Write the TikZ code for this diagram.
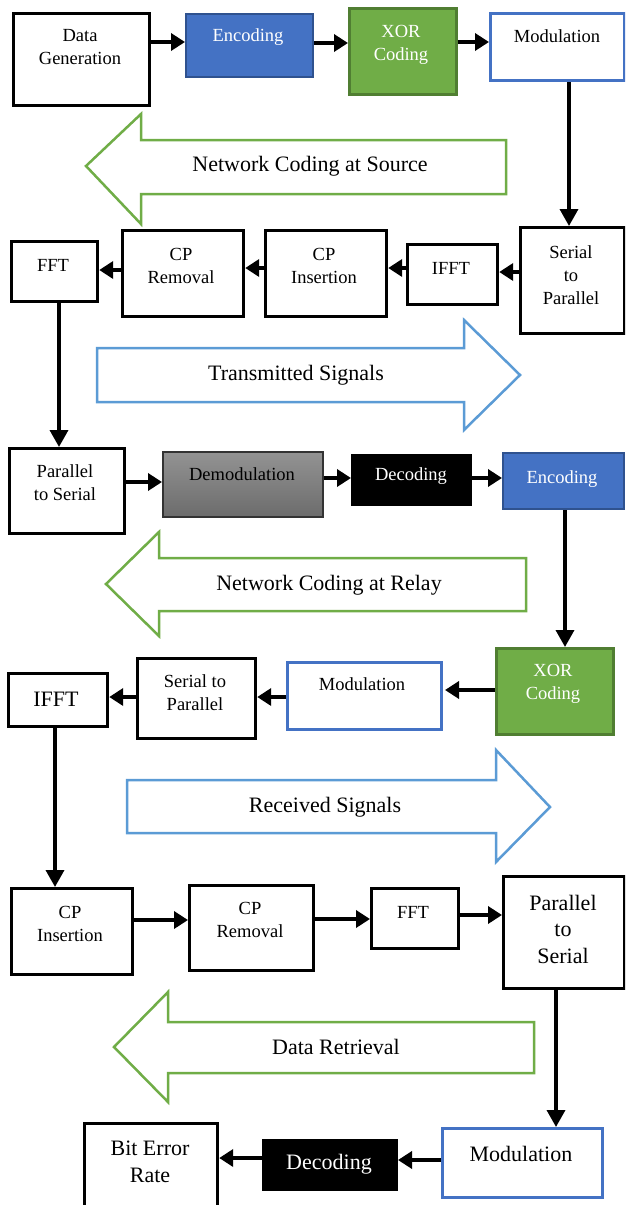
\documentclass[tikz,border=0pt]{standalone}
\usepackage{fontspec}
\setmainfont{Liberation Serif}
\usetikzlibrary{arrows.meta}
\definecolor{encblue}{HTML}{4472C4}
\definecolor{encborder}{HTML}{2F528F}
\definecolor{xorgreen}{HTML}{70AD47}
\definecolor{xorborder}{HTML}{507E32}
\definecolor{sigblue}{HTML}{5B9BD5}
\definecolor{demtop}{HTML}{939393}
\definecolor{dembot}{HTML}{6C6C6C}
\newcommand\blockbox[6]{\node[#2, anchor=north west, minimum width={(#5-#3)*1pt}, minimum height={(#6-#4)*1pt}] (#1) at (#3,#4) {};}
\tikzset{
  plain/.style={rectangle, draw=black, line width=3.2pt, fill=white, inner sep=0pt},
  encbox/.style={rectangle, fill=encblue, draw=encborder, line width=2pt, inner sep=0pt},
  xorbox/.style={rectangle, fill=xorgreen, draw=xorborder, line width=2.5pt, inner sep=0pt},
  modbox/.style={rectangle, fill=white, draw=encblue, line width=3pt, inner sep=0pt},
  decbox/.style={rectangle, fill=black, draw=black, line width=1pt, inner sep=0pt},
  dembox/.style={rectangle, top color=demtop, bottom color=dembot, draw=black!80, line width=1.5pt, inner sep=0pt},
  small/.style={font=\fontsize{18.5}{23}\selectfont, align=center, inner sep=0pt},
  large/.style={font=\fontsize{22}{26.5}\selectfont, align=center, inner sep=0pt},
  lbl/.style={font=\fontsize{22}{26}\selectfont, inner sep=0pt},
  harr/.style={line width=4.5pt, -{Triangle[length=14pt,width=17pt]}},
  varr/.style={line width=3.5pt, -{Triangle[length=17pt,width=18pt]}},
  garrow/.style={draw=xorgreen, line width=2.5pt, line join=miter, fill=white},
  barrow/.style={draw=sigblue, line width=2.5pt, line join=miter, fill=white},
}
\begin{document}
\begin{tikzpicture}[x=1pt, y=-1pt]
\useasboundingbox (0,0) rectangle (625,1205);
\clip (0,0) rectangle (625,1205);
% ---------- block arrows ----------
\draw[garrow] (86,166) -- (141,114) -- (141,140) -- (506,140) -- (506,194) -- (141,194) -- (141,224) -- cycle;
\node[lbl] (lNCS) at (310,166) {Network Coding at Source};
\draw[barrow] (520,375) -- (464,320) -- (464,348) -- (97,348) -- (97,402) -- (464,402) -- (464,430) -- cycle;
\node[lbl] (lTS) at (296,375) {Transmitted Signals};
\draw[garrow] (106,584) -- (159,532) -- (159,558) -- (526,558) -- (526,611) -- (159,611) -- (159,636) -- cycle;
\node[lbl] (lNCR) at (329,585) {Network Coding at Relay};
\draw[barrow] (550,807) -- (496,750) -- (496,780) -- (127,780) -- (127,833) -- (496,833) -- (496,862) -- cycle;
\node[lbl] (lRS) at (325,807) {Received Signals};
\draw[garrow] (114,1047) -- (168,992) -- (168,1022) -- (534,1022) -- (534,1073) -- (168,1073) -- (168,1102) -- cycle;
\node[lbl] (lDR) at (336,1047) {Data Retrieval};
% ---------- row 1 ----------
\blockbox{DG}{plain}{12}{12}{148}{104}
\node[small] (tDG) at (80,47) {Data\\Generation};
\blockbox{EncA}{encbox}{185}{13}{312}{76}
\node[small, text=white] (tEncA) at (248,37) {Encoding};
\blockbox{XorA}{xorbox}{348}{7}{455}{93}
\node[small, text=white] (tXorA) at (401,45) {XOR\\Coding};
\blockbox{ModA}{modbox}{489}{12}{623}{79}
\node[small] (tModA) at (557,36) {Modulation};
\draw[harr] (DG.east |- 0,42) -- (EncA.west |- 0,42);
\draw[harr] (EncA.east |- 0,43) -- (XorA.west |- 0,43);
\draw[harr] (XorA.east |- 0,42) -- (ModA.west |- 0,42);
% ---------- row 2 ----------
\blockbox{FFTA}{plain}{10}{240}{96}{300}
\node[small] (tFFTA) at (53,265) {FFT};
\blockbox{CPRA}{plain}{121}{229}{242}{315}
\node[small] (tCPRA) at (181,266) {CP\\Removal};
\blockbox{CPIA}{plain}{264}{229}{385}{315}
\node[small] (tCPIA) at (324,266) {CP\\Insertion};
\blockbox{IFFTA}{plain}{406}{243}{496}{303}
\node[small] (tIFFTA) at (451,268) {IFFT};
\blockbox{SPA}{plain}{519}{226}{623}{332}
\node[small] (tSPA) at (571,275) {Serial\\to\\Parallel};
\draw[varr] (ModA.south -| 569,0) -- (SPA.north -| 569,0);
\draw[harr] (SPA.west |- 0,272) -- (IFFTA.east |- 0,272);
\draw[harr] (IFFTA.west |- 0,268) -- (CPIA.east |- 0,268);
\draw[harr] (CPIA.west |- 0,268) -- (CPRA.east |- 0,268);
\draw[harr] (CPRA.west |- 0,270) -- (FFTA.east |- 0,270);
% ---------- row 3 ----------
\blockbox{PSA}{plain}{8}{447}{123}{532}
\node[small] (tPSA) at (65,483) {Parallel\\to Serial};
\blockbox{Dem}{dembox}{162}{451}{322}{516}
\node[small] (tDem) at (242,474) {Demodulation};
\blockbox{DecA}{decbox}{351}{454}{471}{505}
\node[small, text=white] (tDecA) at (411,476) {Decoding};
\blockbox{EncB}{encbox}{502}{452}{623}{508}
\node[small, text=white] (tEncB) at (562,479) {Encoding};
\draw[varr] (FFTA.south -| 59,0) -- (PSA.north -| 59,0);
\draw[harr] (PSA.east |- 0,482) -- (Dem.west |- 0,482);
\draw[harr] (Dem.east |- 0,478) -- (DecA.west |- 0,478);
\draw[harr] (DecA.east |- 0,478) -- (EncB.west |- 0,478);
% ---------- row 4 ----------
\blockbox{IFFTB}{plain}{7}{672}{106}{725}
\node[large] (tIFFTB) at (56,699) {IFFT};
\blockbox{SPB}{plain}{136}{657}{254}{737}
\node[small] (tSPB) at (195,693) {Serial to\\Parallel};
\blockbox{ModB}{modbox}{286}{661}{440}{728}
\node[small] (tModB) at (362,684) {Modulation};
\blockbox{XorB}{xorbox}{495}{647}{612}{733}
\node[small, text=white] (tXorB) at (553,684) {XOR\\Coding};
\draw[varr] (EncB.south -| 565,0) -- (XorB.north -| 565,0);
\coordinate (xbtip) at (445,690);
\draw[harr] (XorB.west |- 0,690) -- (xbtip);
\draw[harr] (ModB.west |- 0,697) -- (SPB.east |- 0,697);
\draw[harr] (SPB.west |- 0,697) -- (IFFTB.east |- 0,697);
% ---------- row 5 ----------
\blockbox{CPIB}{plain}{10}{887}{131}{973}
\node[small] (tCPIB) at (70,924) {CP\\Insertion};
\blockbox{CPRB}{plain}{188}{884}{312}{969}
\node[small] (tCPRB) at (250,920) {CP\\Removal};
\blockbox{FFTB}{plain}{370}{887}{457}{947}
\node[small] (tFFTB) at (413,912) {FFT};
\blockbox{PSB}{plain}{502}{875}{623}{987}
\node[large] (tPSB) at (563,929) {Parallel\\to\\Serial};
\draw[varr] (IFFTB.south -| 55,0) -- (CPIB.north -| 55,0);
\draw[harr] (CPIB.east |- 0,920) -- (CPRB.west |- 0,920);
\draw[harr] (CPRB.east |- 0,919) -- (FFTB.west |- 0,919);
\draw[harr] (FFTB.east |- 0,915) -- (PSB.west |- 0,915);
% ---------- row 6 ----------
\blockbox{BER}{plain}{83}{1122}{216}{1230}
\node[large] (tBER) at (150,1162) {Bit Error\\Rate};
\blockbox{DecB}{decbox}{262}{1139}{397}{1190}
\node[large, text=white] (tDecB) at (329,1164) {Decoding};
\blockbox{ModC}{modbox}{441}{1127}{601}{1196}
\node[large] (tModC) at (521,1154) {Modulation};
\draw[varr] (PSB.south -| 556,0) -- (ModC.north -| 556,0);
\draw[harr] (ModC.west |- 0,1160) -- (DecB.east |- 0,1160);
\draw[harr] (DecB.west |- 0,1158) -- (BER.east |- 0,1158);
\end{tikzpicture}
\end{document}
